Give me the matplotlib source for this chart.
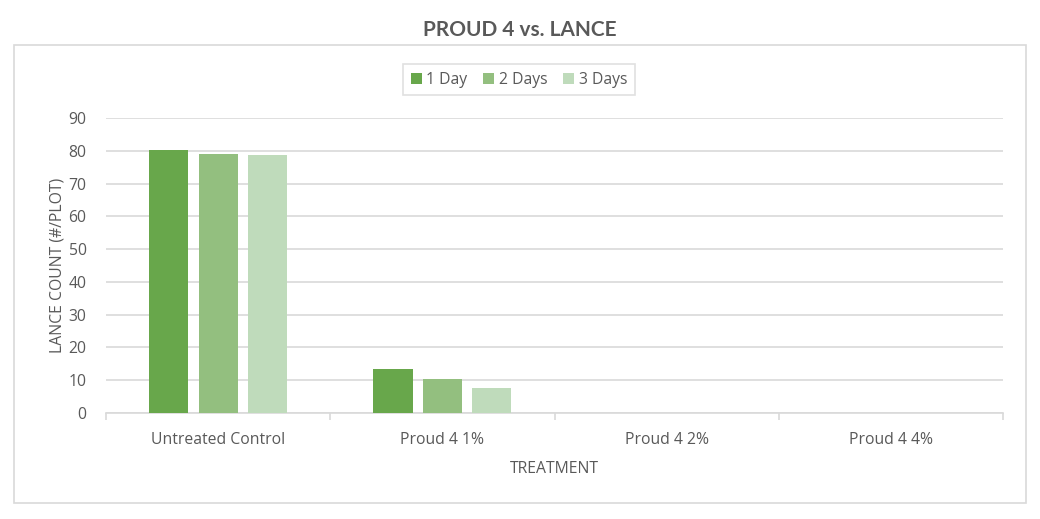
import matplotlib
matplotlib.use("Agg")
import matplotlib.pyplot as plt
import numpy as np
from matplotlib.patches import Rectangle

categories = ["Untreated Control", "Proud 4 1%", "Proud 4 2%", "Proud 4 4%"]
series_names = ["1 Day", "2 Days", "3 Days"]
day1 = [80.3, 13.5, 0, 0]
day2 = [79.1, 10.5, 0, 0]
day3 = [78.8, 7.5, 0, 0]
colors = ["#68a74b", "#93bf7f", "#bfdbbb"]
yticks = [0, 10, 20, 30, 40, 50, 60, 70, 80, 90]

txt = "#595959"
fig = plt.figure(figsize=(10.4, 5.19), dpi=100)
fig.patch.set_facecolor("white")
# outer border
fig.add_artist(Rectangle((14/1040, 1-503/519), (1026-14)/1040, (503-45)/519,
                         transform=fig.transFigure, fill=False, edgecolor="#d9d9d9", lw=1.2))
fig.text(0.5, 1-30/519, "PROUD 4 vs. LANCE", ha="center", va="center",
         fontsize=15, fontweight="bold", color=txt, family="Lato")

ax = fig.add_axes([106/1040, 1-413/519, (1003-106)/1040, (413-118)/519])
x = np.arange(len(categories))
w = 0.175
step = 0.22
for i, (vals, name) in enumerate(zip([day1, day2, day3], series_names)):
    ax.bar(x + (i-1)*step, vals, width=w, color=colors[i], label=name, zorder=3)

ax.set_xlim(-0.5, len(categories)-0.5)
ax.set_ylim(0, 90)
ax.set_yticks(yticks)
ax.grid(axis="y", color="#d9d9d9", lw=1.2, zorder=0)
for s in ["top", "right", "left"]:
    ax.spines[s].set_visible(False)
ax.spines["bottom"].set_color("#d9d9d9")
ax.spines["bottom"].set_linewidth(1.2)
ax.set_xticks(x)
ax.set_xticklabels(categories)
ax.set_xticks(np.arange(-0.5, len(categories)), minor=True)
ax.tick_params(axis="x", which="major", length=0, pad=14, labelsize=11.3, labelcolor=txt)
ax.tick_params(axis="x", which="minor", length=5, color="#d9d9d9", width=1.2)
ax.tick_params(axis="y", length=0, pad=14, labelsize=11.3, labelcolor=txt)
for lab in ax.get_xticklabels() + ax.get_yticklabels():
    lab.set_family("Open Sans")
ax.set_xlabel("TREATMENT", fontsize=11.3, color=txt, family="Open Sans", labelpad=9)
ax.set_ylabel("LANCE COUNT (#/PLOT)", fontsize=11.3, color=txt, family="Open Sans", labelpad=2)

leg = fig.legend(loc="center", bbox_to_anchor=(519/1040, 1-79.5/519), ncol=3,
                 frameon=True, fancybox=False, edgecolor="#d9d9d9",
                 prop={"family": "Open Sans", "size": 11.3}, handlelength=0.7,
                 handleheight=0.7, handletextpad=0.3, columnspacing=1.0, borderpad=0.5)
for t in leg.get_texts():
    t.set_color(txt)
leg.get_frame().set_linewidth(1.2)

fig.savefig("out.png", dpi=100, facecolor="white")
